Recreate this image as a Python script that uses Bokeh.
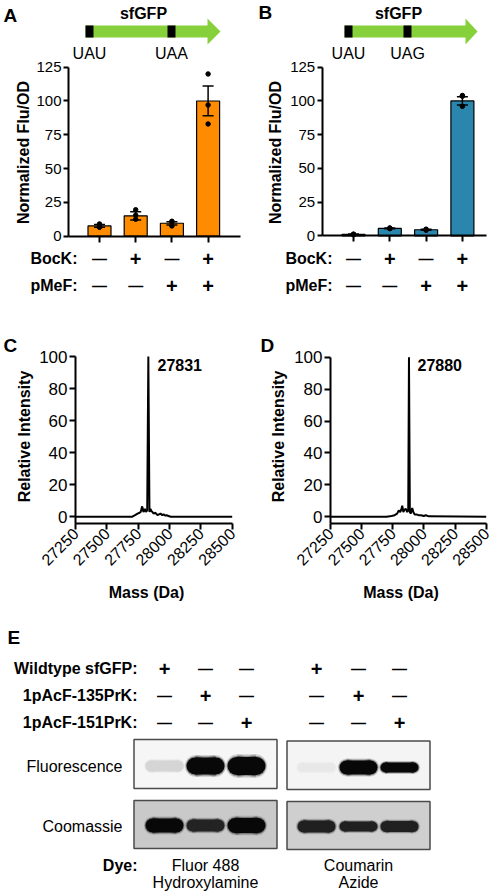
import math
from bokeh.plotting import figure
from bokeh.models import Range1d, LinearAxis, FixedTicker, NumeralTickFormatter
from bokeh.layouts import column, row
from bokeh.core.properties import value
from bokeh.embed import file_html
from bokeh.resources import INLINE

FONT = "Liberation Sans"
ORANGE = "#FF8C00"
BLUE = "#2A86AC"
GREEN = "#86D03C"

# ---------------- data ----------------
conditions = [1, 2, 3, 4]
bock = ["—", "+", "—", "+"]
pmef = ["—", "—", "+", "+"]
bar_ticks = [0, 25, 50, 75, 100, 125]

a_mean = [7.5, 15.0, 9.5, 100.0]
a_sem = [1.0, 3.0, 1.2, 11.0]
a_pts = [[9.0, 7.0, 6.5], [19.5, 15.5, 12.5], [11.0, 10.5, 7.5], [120.0, 97.0, 83.0]]

b_mean = [1.0, 5.5, 4.5, 100.0]
b_sem = [0.3, 0.3, 0.4, 3.0]
b_pts = [[1.2, 0.8, 1.1], [5.8, 5.6, 5.3], [4.1, 4.9, 4.6], [104.0, 103.5, 96.0]]

mass_ticks = [27250, 27500, 27750, 28000, 28250, 28500]
int_ticks = [0, 20, 40, 60, 80, 100]

c_peak = 27831
c_mass = [27250, 27700, 27725, 27745, 27760, 27770, 27782, 27792, 27803, 27812, 27822, 27831,
          27840, 27848, 27856, 27864, 27872, 27888, 27904, 27916, 27928, 27942, 27952, 27964,
          27976, 27992, 28010, 28500]
c_int = [0, 0, 1.0, 2.0, 2.5, 3.0, 6.5, 3.0, 5.0, 3.0, 4.0, 100, 3.0, 5.0, 3.5, 3.0, 2.0, 2.5,
         1.0, 1.5, 2.0, 1.0, 1.5, 0.8, 1.0, 0.5, 0, 0]

d_peak = 27880
d_mass = [27250, 27700, 27740, 27765, 27785, 27798, 27810, 27818, 27826, 27835, 27845, 27855,
          27866, 27874, 27880, 27887, 27895, 27906, 27915, 27925, 27940, 27955, 27975, 28000,
          28015, 28040, 28500]
d_int = [0, 0, 0.5, 1.0, 2.0, 4.0, 3.0, 4.5, 7.0, 3.0, 4.5, 5.0, 3.0, 4.0, 100, 3.0, 2.0, 5.5,
         3.0, 1.5, 1.5, 1.0, 1.0, 0.5, 1.0, 0.3, 0]

wildtype = ["+", "—", "—"]
pacf135 = ["—", "+", "—"]
pacf151 = ["—", "—", "+"]
fluor_left = [0.14, 1.0, 1.0]
fluor_right = [0.05, 1.0, 1.0]
coom_left = [1.0, 0.86, 1.0]
coom_right = [0.88, 0.88, 0.88]
dyes = [("Fluor 488", "Hydroxylamine"), ("Coumarin", "Azide")]


# ---------------- helpers ----------------
def panel(left, top, w, h, xmap, ymap):
    xa, xva, xb, xvb = xmap
    ya, yva, yb, yvb = ymap
    kx = (xvb - xva) / (xb - xa)
    ky = (yvb - yva) / (yb - ya)
    fx = lambda px: xva + (px - xa) * kx
    fy = lambda py: yva + (py - ya) * ky
    p = figure(width=w, height=h, x_range=Range1d(fx(left), fx(left + w)),
               y_range=Range1d(fy(top + h), fy(top)), x_axis_type=None, y_axis_type=None,
               output_backend="svg", toolbar_location=None, title=None, min_border=0)
    p.min_border_left = 0
    p.min_border_right = 0
    p.min_border_top = 0
    p.min_border_bottom = 0
    p.outline_line_color = None
    p.background_fill_color = "white"
    p.border_fill_color = "white"
    return p, fx, fy, kx


def txt(p, xs, ys, texts, size, bold=False, align="center", baseline="middle", angle=0.0):
    p.text(x=xs, y=ys, text=texts, text_font=value(FONT), text_font_size=size,
           text_font_style="bold" if bold else "normal", text_color="black",
           text_align=align, text_baseline=baseline, angle=angle)


def sym_sizes(syms):
    return ["20px" if s == "+" else "15px" for s in syms]


def style_axis(ax, label_size, tick_out, standoff):
    ax.axis_line_width = 2
    ax.axis_line_color = "black"
    ax.major_tick_line_width = 2
    ax.major_tick_line_color = "black"
    ax.major_tick_out = tick_out
    ax.major_tick_in = 0
    ax.minor_tick_out = 0
    ax.minor_tick_in = 0
    ax.major_label_text_font = FONT
    ax.major_label_text_font_size = label_size
    ax.major_label_text_color = "black"
    ax.major_label_standoff = standoff


def bar_panel(left, top, w, h, xmap, ymap, means, sems, pts, color, letter, codon2,
              axis_px, axis_end_px, ylab_px, lab_right_px, arrow, box2, sf_x, codon_x):
    p, fx, fy, kx = panel(left, top, w, h, xmap, ymap)
    yax = LinearAxis(fixed_location=fx(axis_px), bounds=(0, 125),
                     ticker=FixedTicker(ticks=bar_ticks))
    style_axis(yax, "15px", 5, 2)
    p.add_layout(yax, "left")
    xax = LinearAxis(fixed_location=0, bounds=(fx(axis_px), fx(axis_end_px)),
                     ticker=FixedTicker(ticks=conditions),
                     major_label_overrides={c: "" for c in conditions})
    style_axis(xax, "1px", 6, 0)
    p.add_layout(xax, "below")
    bw = 23 * kx
    p.vbar(x=conditions, top=means, bottom=0, width=bw, fill_color=color,
           line_color="black", line_width=1.2)
    lo = [m - s for m, s in zip(means, sems)]
    hi = [m + s for m, s in zip(means, sems)]
    cap = 5.5 * kx
    p.segment(x0=conditions, y0=lo, x1=conditions, y1=hi, line_color="black", line_width=1.5)
    p.segment(x0=[c - cap for c in conditions], y0=hi, x1=[c + cap for c in conditions], y1=hi,
              line_color="black", line_width=1.5)
    p.segment(x0=[c - cap for c in conditions], y0=lo, x1=[c + cap for c in conditions], y1=lo,
              line_color="black", line_width=1.5)
    px_, py_ = [], []
    for c, vals in zip(conditions, pts):
        for v in vals:
            px_.append(c)
            py_.append(v)
    p.scatter(x=px_, y=py_, size=4.5, color="black")
    txt(p, [fx(ylab_px)], [fy(152)], ["Normalized Flu/OD"], "16px", bold=True, angle=math.pi / 2)
    txt(p, [fx(lab_right_px)] * 2, [fy(258), fy(285)], ["BocK:", "pMeF:"], "16px", bold=True,
        align="right")
    p.text(x=conditions, y=[fy(258)] * 4, text=bock, text_font=value(FONT),
           text_font_size=sym_sizes(bock), text_font_style="bold", text_align="center",
           text_baseline="middle")
    p.text(x=conditions, y=[fy(285)] * 4, text=pmef, text_font=value(FONT),
           text_font_size=sym_sizes(pmef), text_font_style="bold", text_align="center",
           text_baseline="middle")
    a0, a1, a2 = arrow
    ax_ = [a0, a1, a1, a2, a1, a1, a0]
    ay_ = [25, 25, 18, 31, 44, 37, 37]
    p.patch(x=[fx(v) for v in ax_], y=[fy(v) for v in ay_], fill_color=GREEN, line_color=None)
    p.quad(left=[fx(a0), fx(box2)], right=[fx(a0 + 8), fx(box2 + 8)], top=[fy(25)] * 2,
           bottom=[fy(37)] * 2, fill_color="black", line_color=None)
    txt(p, [fx(sf_x)], [fy(13)], ["sfGFP"], "16px", bold=True)
    txt(p, [fx(codon_x[0]), fx(codon_x[1])], [fy(53)] * 2, ["UAU", codon2], "16px")
    txt(p, [fx(letter[1])], [fy(letter[2])], [letter[0]], "19px", bold=True, align="left",
        baseline="top")
    return p


pA = bar_panel(0, 0, 248, 300, (99, 1, 135.2, 2), (235.6, 0, 66.7, 125), a_mean, a_sem, a_pts,
               ORANGE, ("A", 3, 4.7), "UAA", 68, 240, 22.5, 77, (85, 207, 220), 167, 143,
               (89, 171))
pB = bar_panel(248, 0, 247, 300, (353, 1, 389.3, 2), (235.3, 0, 66.7, 125), b_mean, b_sem,
               b_pts, BLUE, ("B", 258, 1.5), "UAG", 321.7, 485.7, 274.7, 332, (344, 465, 477),
               403, 398, (348, 407))


def ms_panel(left, top, w, h, xmap, ymap, mass, inten, peak, letter, ylab_px,
             peak_lab_px, mass_lab_px):
    p, fx, fy, kx = panel(left, top, w, h, xmap, ymap)
    base = fy(523.3)
    yax = LinearAxis(fixed_location=mass_ticks[0], bounds=(base, 100),
                     ticker=FixedTicker(ticks=int_ticks))
    style_axis(yax, "17px", 6, 2)
    p.add_layout(yax, "left")
    xax = LinearAxis(fixed_location=base, bounds=(mass_ticks[0], mass_ticks[-1]),
                     ticker=FixedTicker(ticks=mass_ticks),
                     formatter=NumeralTickFormatter(format="0"))
    style_axis(xax, "16px", 6, 1)
    xax.major_label_orientation = math.pi / 4
    p.add_layout(xax, "below")
    p.line(x=mass, y=inten, line_color="black", line_width=2)
    txt(p, [fx(peak_lab_px)], [fy(364)], [str(peak)], "16px", bold=True, align="left")
    txt(p, [fx(ylab_px)], [fy(436)], ["Relative Intensity"], "16px", bold=True,
        angle=math.pi / 2)
    txt(p, [fx(mass_lab_px)], [fy(592)], ["Mass (Da)"], "16px", bold=True)
    txt(p, [fx(letter[1])], [fy(letter[2])], [letter[0]], "19px", bold=True, align="left",
        baseline="top")
    return p


pC = ms_panel(0, 300, 248, 310, (75, 27250, 231.7, 28500), (516.3, 0, 356, 100), c_mass, c_int,
              c_peak, ("C", 3, 334.5), 23.5, 157, 146)
pD = ms_panel(248, 300, 247, 310, (330, 27250, 485.7, 28500), (516.3, 0, 356.7, 100), d_mass,
              d_int, d_peak, ("D", 260, 334.5), 278, 417, 400.5)

# ---------------- panel E ----------------
pE, ex, ey, _ = panel(0, 610, 495, 284, (0, 0, 1, 1), (0, 0, 1, 1))
lanes_left = [164, 205, 246]
lanes_right = [316, 358, 399]
txt(pE, [7], [626.5], ["E"], "19px", bold=True, align="left", baseline="top")
row_y = [668, 695, 722]
txt(pE, [137] * 3, row_y, ["Wildtype sfGFP:", "1pAcF-135PrK:", "1pAcF-151PrK:"], "16px",
    bold=True, align="right")
for lanes in (lanes_left, lanes_right):
    for yv, syms in zip(row_y, (wildtype, pacf135, pacf151)):
        pE.text(x=lanes, y=[yv] * 3, text=syms, text_font=value(FONT),
                text_font_size=sym_sizes(syms), text_font_style="bold", text_align="center",
                text_baseline="middle")

gels = [
    (133.5, 276.5, 739, 788, 0.965, lanes_left, fluor_left, 765.5, [11, 17, 18]),
    (286.5, 429.5, 740.5, 789, 0.955, lanes_right, fluor_right, 767, [9, 14, 10]),
    (133.5, 276.5, 800, 848, 0.79, lanes_left, coom_left, 825, [14, 12, 15]),
    (286.5, 429.5, 801, 849, 0.81, lanes_right, coom_right, 826, [12, 10, 11]),
]


def gray(level):
    v = max(0, min(255, int(round(level * 255))))
    return "#%02x%02x%02x" % (v, v, v)


for (l, r, t, b, bg, lanes, inten, yc, hts) in gels:
    pE.quad(left=[l], right=[r], top=[t], bottom=[b], fill_color=gray(bg),
            line_color="#4a4a4a", line_width=1.5)
    cols = [gray(bg * (1 - i) + 0.03 * i) for i in inten]
    bw = 38.0
    for scale, alpha in ((1.3, 0.15), (1.15, 0.3), (1.0, 1.0)):
        ws = [bw * (1 + (scale - 1) * 0.3)] * 3
        hs = [hh * scale for hh in hts]
        pE.rect(x=lanes, y=[yc] * 3, width=[w_ - h_ for w_, h_ in zip(ws, hs)], height=hs,
                fill_color=cols, line_color=None, fill_alpha=alpha)
        pE.ellipse(x=[x - (w_ - h_) / 2 for x, w_, h_ in zip(lanes, ws, hs)], y=[yc] * 3,
                   width=hs, height=hs, fill_color=cols, line_color=None, fill_alpha=alpha)
        pE.ellipse(x=[x + (w_ - h_) / 2 for x, w_, h_ in zip(lanes, ws, hs)], y=[yc] * 3,
                   width=hs, height=hs, fill_color=cols, line_color=None, fill_alpha=alpha)

txt(pE, [122, 122], [766, 826], ["Fluorescence", "Coomassie"], "16px", align="right")
txt(pE, [137], [865], ["Dye:"], "16px", bold=True, align="right")
for cx, (l1, l2) in zip((lanes_left[1], lanes_right[1]), dyes):
    txt(pE, [cx, cx], [865, 882], [l1, l2], "16px")

layout = column(row(pA, pB), row(pC, pD), pE)
open("out.html", "w").write(file_html(layout, INLINE))
